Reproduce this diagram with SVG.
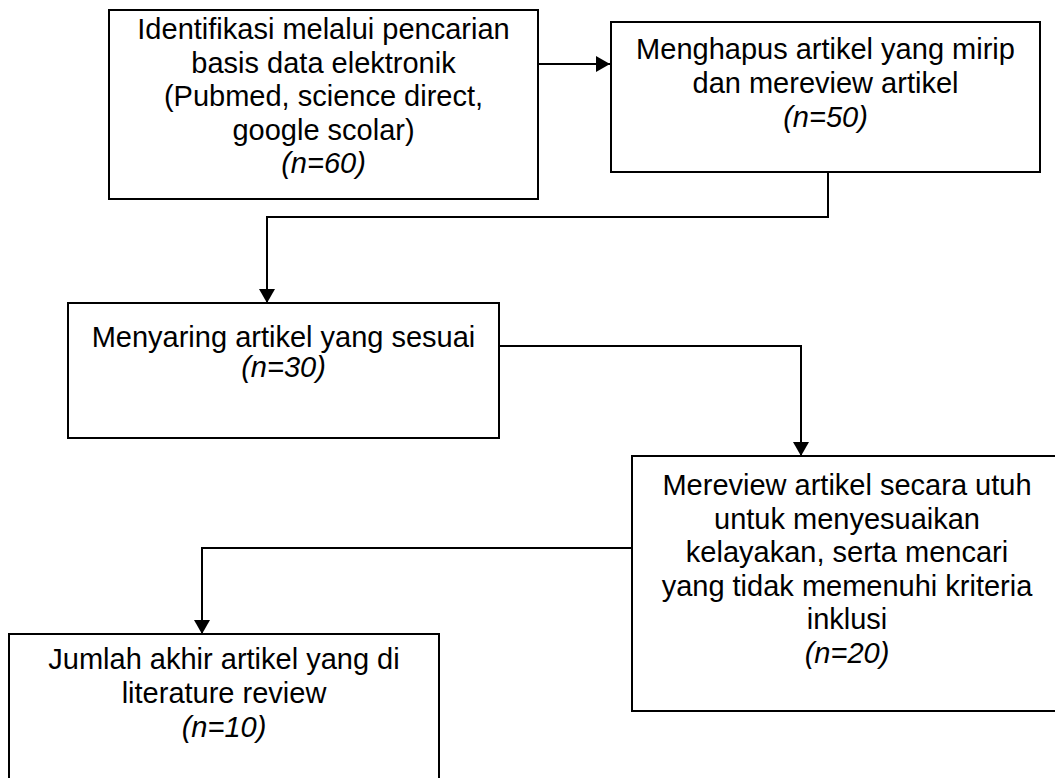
<svg xmlns="http://www.w3.org/2000/svg" width="1055" height="778" viewBox="0 0 1055 778">
<defs>
<marker id="arr" viewBox="0 0 14 16" refX="14" refY="8" markerWidth="14" markerHeight="16" markerUnits="userSpaceOnUse" orient="auto">
<path d="M0,0 L14,8 L0,16 Z" fill="#000"/>
</marker>
<style>
.box{fill:#fff;stroke:#000;stroke-width:2}
.t{font-family:"Liberation Sans",Arial,sans-serif;font-size:29px;fill:#000;text-anchor:middle}
.i{font-style:italic}
.c{fill:none;stroke:#000;stroke-width:2}
</style>
</defs>
<rect width="1055" height="778" fill="#fff"/>
<g id="connectors">
<path class="c" d="M538,64 H610" marker-end="url(#arr)"/>
<path class="c" d="M828,172 V217 H267 V303" marker-end="url(#arr)"/>
<path class="c" d="M499,346 H801 V456" marker-end="url(#arr)"/>
<path class="c" d="M632,548 H202 V634" marker-end="url(#arr)"/>
</g>
<g id="n1">
<rect class="box" x="109" y="10" width="429" height="189"/>
<text class="t" x="323.5" y="39">Identifikasi melalui pencarian</text>
<text class="t" x="323.5" y="72.5">basis data elektronik</text>
<text class="t" x="323.5" y="106">(Pubmed, science direct,</text>
<text class="t" x="323.5" y="139.5">google scolar)</text>
<text class="t i" x="323.5" y="173">(n=60)</text>
</g>
<g id="n2">
<rect class="box" x="611" y="22" width="429" height="150"/>
<text class="t" x="825.5" y="59">Menghapus artikel yang mirip</text>
<text class="t" x="825.5" y="93">dan mereview artikel</text>
<text class="t i" x="825.5" y="127">(n=50)</text>
</g>
<g id="n3">
<rect class="box" x="68" y="303" width="431" height="135"/>
<text class="t" x="283.5" y="347">Menyaring artikel yang sesuai</text>
<text class="t i" x="283.5" y="377">(n=30)</text>
</g>
<g id="n4">
<rect class="box" x="632" y="456" width="430" height="255"/>
<text class="t" x="847" y="495">Mereview artikel secara utuh</text>
<text class="t" x="847" y="528.6">untuk menyesuaikan</text>
<text class="t" x="847" y="562.2">kelayakan, serta mencari</text>
<text class="t" x="847" y="595.8">yang tidak memenuhi kriteria</text>
<text class="t" x="847" y="629.4">inklusi</text>
<text class="t i" x="847" y="663">(n=20)</text>
</g>
<g id="n5">
<rect class="box" x="9" y="634" width="430" height="160"/>
<text class="t" x="224" y="669">Jumlah akhir artikel yang di</text>
<text class="t" x="224" y="703">literature review</text>
<text class="t i" x="224" y="737">(n=10)</text>
</g>
</svg>
